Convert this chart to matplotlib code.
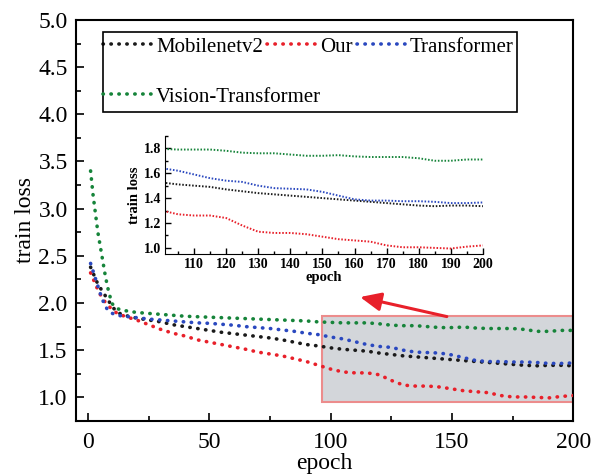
import numpy as np
import matplotlib
matplotlib.use("Agg")
import matplotlib.pyplot as plt
from matplotlib.patches import Rectangle
from matplotlib.ticker import MultipleLocator, FormatStrFormatter

plt.rcParams['font.family'] = ['Liberation Serif', 'DejaVu Serif']

# epochs at which the loss was logged
epochs = [1, 2, 3, 4, 5, 6, 7, 8, 9, 10, 12, 15, 20, 25, 30, 35, 40, 45, 50,
          55, 60, 65, 70, 75, 80, 85, 90, 95, 100, 105, 110, 115, 120, 125,
          130, 135, 140, 145, 150, 155, 160, 165, 170, 175, 180, 185, 190,
          195, 200]

loss_mobilenet = [2.38, 2.32, 2.26, 2.20, 2.16, 2.12, 2.08, 2.04, 2.00, 1.96,
                  1.90, 1.87, 1.84, 1.82, 1.80, 1.77, 1.75, 1.73, 1.71, 1.69,
                  1.675, 1.66, 1.645, 1.63, 1.61, 1.585, 1.56, 1.545, 1.525,
                  1.51, 1.50, 1.49, 1.47, 1.455, 1.44, 1.43, 1.42, 1.41, 1.40,
                  1.39, 1.38, 1.37, 1.36, 1.35, 1.34, 1.335, 1.34, 1.34, 1.335]

loss_our = [2.32, 2.26, 2.20, 2.14, 2.09, 2.05, 2.01, 1.98, 1.955, 1.93,
            1.89, 1.86, 1.82, 1.77, 1.72, 1.68, 1.65, 1.61, 1.585, 1.56,
            1.535, 1.51, 1.48, 1.46, 1.44, 1.41, 1.38, 1.34, 1.30, 1.27,
            1.26, 1.26, 1.24, 1.18, 1.13, 1.12, 1.12, 1.11, 1.09, 1.07,
            1.06, 1.05, 1.02, 1.005, 1.005, 1.0, 0.995, 1.01, 1.02]

loss_transformer = [2.42, 2.34, 2.26, 2.18, 2.10, 2.03, 1.97, 1.93, 1.91, 1.89,
                    1.87, 1.86, 1.845, 1.83, 1.82, 1.81, 1.80, 1.79, 1.785,
                    1.775, 1.765, 1.75, 1.74, 1.73, 1.715, 1.70, 1.68, 1.665,
                    1.64, 1.62, 1.59, 1.56, 1.54, 1.53, 1.50, 1.48, 1.475,
                    1.47, 1.45, 1.42, 1.39, 1.38, 1.38, 1.375, 1.375, 1.37,
                    1.36, 1.36, 1.365]

loss_vit = [3.40, 3.15, 2.95, 2.75, 2.60, 2.45, 2.30, 2.17, 2.07, 1.99,
            1.94, 1.92, 1.90, 1.89, 1.88, 1.87, 1.86, 1.855, 1.85, 1.845,
            1.84, 1.835, 1.83, 1.825, 1.82, 1.815, 1.81, 1.80, 1.795, 1.79,
            1.79, 1.79, 1.78, 1.765, 1.76, 1.76, 1.75, 1.74, 1.74, 1.745,
            1.735, 1.73, 1.73, 1.73, 1.72, 1.70, 1.70, 1.71, 1.71]

series = [
    ("Mobilenetv2", loss_mobilenet, "#1a1a1a"),
    ("Our", loss_our, "#e8202a"),
    ("Transformer", loss_transformer, "#2a48bf"),
    ("Vision-Transformer", loss_vit, "#16843a"),
]

fig = plt.figure(figsize=(5.94, 4.75), dpi=100)
ax = fig.add_axes([0.128, 0.1137, 0.837, 0.8443])

handles = {}
for name, vals, col in series:
    ln, = ax.plot(epochs, vals, color=col, lw=2.6, dashes=(0.1, 2.1),
                  dash_capstyle='round', label=name, zorder=3)
    handles[name] = ln

# zoomed region behind the curves
ax.add_patch(Rectangle((96.5, 0.95), 103.5, 0.91, facecolor="#d3d6da",
                       edgecolor="#ec8c8c", lw=1.5, zorder=1))
ax.annotate("", xy=(111, 2.07), xytext=(149, 1.85),
            arrowprops=dict(arrowstyle="-|>,head_length=0.9,head_width=0.4",
                            color="#e8202a", lw=2.2, mutation_scale=14),
            zorder=4)

ax.set_xlim(-5, 200)
ax.set_ylim(0.75, 5.0)
ax.xaxis.set_major_locator(MultipleLocator(50))
ax.xaxis.set_minor_locator(MultipleLocator(25))
ax.yaxis.set_major_locator(MultipleLocator(0.5))
ax.yaxis.set_minor_locator(MultipleLocator(0.25))
ax.yaxis.set_major_formatter(FormatStrFormatter('%.1f'))
ax.tick_params(which='both', direction='in', width=1.2, labelsize=17)
ax.tick_params(axis='x', which='both', pad=8)
ax.tick_params(axis='y', which='both', pad=6)
ax.tick_params(which='major', length=6)
ax.tick_params(which='minor', length=3.5)
for sp in ax.spines.values():
    sp.set_linewidth(1.5)
ax.set_xlabel("epoch", fontsize=17, labelpad=0)
ax.set_ylabel("train loss", fontsize=17, labelpad=2)

# legend: three entries on the first row, one on the second, one frame
leg_kw = dict(fontsize=15, frameon=False, borderaxespad=0, borderpad=0,
              handlelength=2.3, handletextpad=0.25, columnspacing=0.2,
              loc="center left")
row1 = ["Mobilenetv2", "Our", "Transformer"]
leg1 = ax.legend([handles[k] for k in row1], row1, ncol=3,
                 bbox_to_anchor=(0.054, 0.933), **leg_kw)
ax.add_artist(leg1)
ax.legend([handles["Vision-Transformer"]], ["Vision-Transformer"],
          bbox_to_anchor=(0.054, 0.808), **leg_kw)
ax.add_patch(Rectangle((0.054, 0.7706), 0.833, 0.1994, transform=ax.transAxes,
                       facecolor="none", edgecolor="black", lw=1.2,
                       zorder=5, clip_on=False))

# inset with the last 100 epochs
ins = fig.add_axes([0.278, 0.465, 0.535, 0.249])
for name, vals, col in series:
    ins.plot(epochs, vals, color=col, lw=1.4, dashes=(0.8, 0.9))
ins.set_xlim(101, 200)
ins.set_ylim(0.95, 1.9)
ins.spines['top'].set_visible(False)
ins.spines['right'].set_visible(False)
ins.patch.set_alpha(0)
ins.xaxis.set_major_locator(MultipleLocator(10))
ins.xaxis.set_minor_locator(MultipleLocator(5))
ins.yaxis.set_major_locator(MultipleLocator(0.2))
ins.yaxis.set_minor_locator(MultipleLocator(0.1))
ins.yaxis.set_major_formatter(FormatStrFormatter('%.1f'))
ins.tick_params(which='both', direction='in', width=1, labelsize=10, pad=3)
ins.tick_params(which='major', length=4)
ins.tick_params(which='minor', length=2.5)
for lab in ins.get_xticklabels() + ins.get_yticklabels():
    lab.set_fontweight('bold')
ins.set_xlabel("epoch", fontsize=10.5, fontweight='bold', labelpad=0)
ins.set_ylabel("train loss", fontsize=10.5, fontweight='bold', labelpad=2)

fig.savefig("out.png", dpi=100)
